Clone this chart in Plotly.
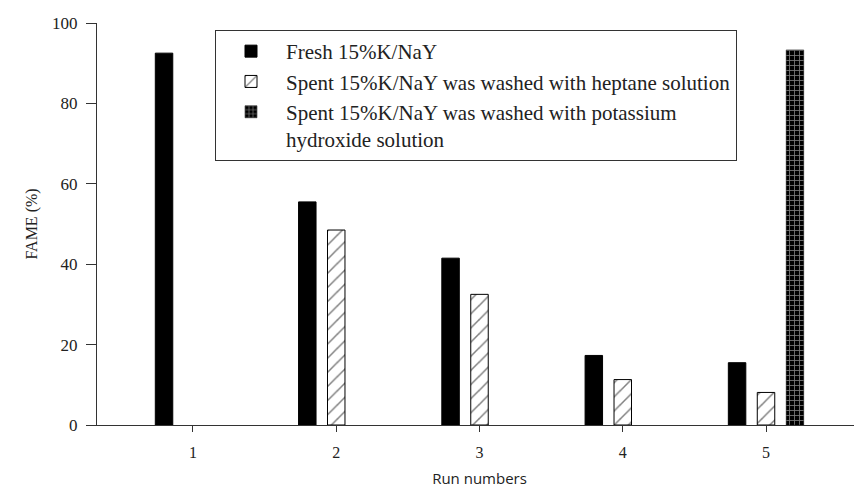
import plotly.graph_objects as go

runs = [1, 2, 3, 4, 5]
fresh = [92.5, 55.5, 41.5, 17.3, 15.5]
heptane = [None, 48.5, 32.5, 11.3, 8.1]
koh = [None, None, None, None, 93.3]

names = [
    "Fresh 15%K/NaY",
    "Spent 15%K/NaY was washed with heptane solution",
    "Spent 15%K/NaY was washed with potassium<br>hydroxide solution",
]

W = 0.122
SLOT = 0.202

fig = go.Figure()
fig.add_trace(go.Bar(
    x=runs, y=fresh, name=names[0], width=W, offset=-SLOT - W / 2,
    marker=dict(color="black", line=dict(color="black", width=1)),
))
fig.add_trace(go.Bar(
    x=runs, y=heptane, name=names[1], width=W, offset=-W / 2,
    marker=dict(color="white", line=dict(color="black", width=1),
                pattern=dict(shape="/", fgcolor="black", bgcolor="white",
                             size=10, solidity=0.15)),
))
fig.add_trace(go.Bar(
    x=runs, y=koh, name=names[2], width=W, offset=SLOT - W / 2,
    marker=dict(color="black", line=dict(color="black", width=0.5),
                pattern=dict(shape="+", fgcolor="white", bgcolor="black",
                             size=5, solidity=0.3)),
))

serif = "Liberation Serif"
fig.update_layout(
    width=854, height=480,
    margin=dict(l=89, r=0, t=15, b=63),
    paper_bgcolor="white", plot_bgcolor="white",
    barmode="overlay",
    font=dict(family=serif, size=16, color="#222"),
    legend=dict(
        x=(215 - 97) / 765, y=(425 - 30) / 402, xanchor="left", yanchor="top",
        bordercolor="#333", borderwidth=1, bgcolor="white",
        font=dict(family=serif, size=21, color="#222"),
        tracegroupgap=0, itemwidth=60, valign="top",
    ),
    xaxis=dict(
        range=[0.33, 5.67], tickvals=runs, ticktext=[str(r) for r in runs],
        showline=True, linecolor="#333", linewidth=1,
        ticks="outside", ticklen=6, tickcolor="#333",
        showgrid=False, zeroline=False, automargin=False,
        ticklabelstandoff=7,
        tickfont=dict(family=serif, size=16, color="#222"),
        title=dict(text="Run numbers", font=dict(family="Open Sans", size=15, color="#222"),
                   standoff=13),
    ),
    yaxis=dict(
        range=[0, 100], tickvals=[0, 20, 40, 60, 80, 100],
        showline=True, linecolor="#333", linewidth=1,
        ticks="outside", ticklen=10, tickcolor="#333",
        showgrid=False, zeroline=False, automargin=False,
        ticklabelstandoff=5,
        tickfont=dict(family=serif, size=17, color="#222"),
        title=dict(text="FAME (%)", font=dict(family=serif, size=16, color="#222"),
                   standoff=10),
    ),
    showlegend=True,
)

fig.write_html("out.html")
